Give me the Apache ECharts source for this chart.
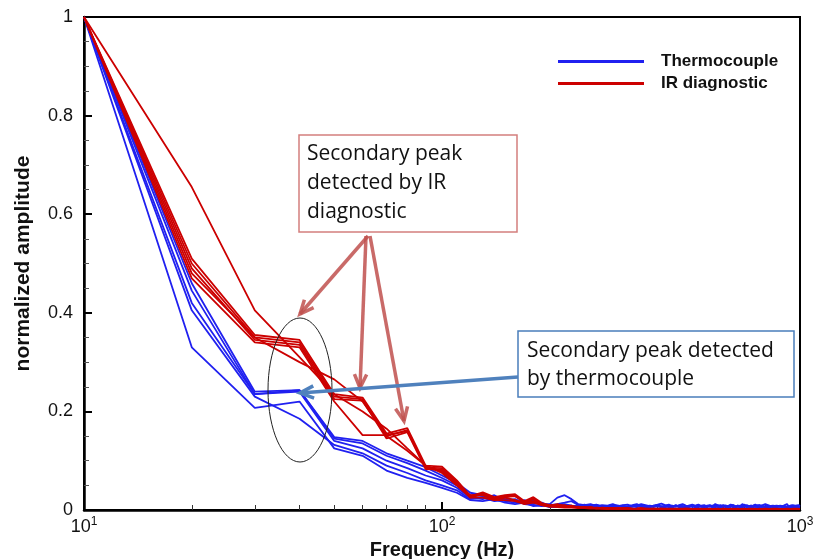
<!DOCTYPE html>
<html>
<head>
<meta charset="UTF-8">
<title>normalized amplitude</title>
<script src="https://cdn.jsdelivr.net/npm/echarts@6/dist/echarts.min.js"></script>
</head>
<body style="margin:0">
<div id="main" style="width:813px;height:559px;"></div>
<script type="text/javascript">
// frequency grid (Hz)
var freq = [10,20,30,40,50,60,70,80,90,100,
  110,120,130,140,150,160,170,180,190,200,
  210,220,230,240,250,260,270,280,290,300,
  310,320,330,340,350,360,370,380,390,400,
  410,420,430,440,450,460,470,480,490,500,
  510,520,530,540,550,560,570,580,590,600,
  610,620,630,640,650,660,670,680,690,700,
  710,720,730,740,750,760,770,780,790,800,
  810,820,830,840,850,860,870,880,890,900,
  910,920,930,940,950,960,970,980,990,1000];

// thermocouple curves
var tc1 = [1,.46,.24,.243,.148,.14,.115,.10,.087,.07,
  .055,.035,.03,.025,.022,.02,.018,.015,.012,.012,
  .025,.030,.022,.012,.010,.012,.008,.010,.009,.012,
  .008,.010,.011,.007,.009,.012,.010,.008,.009,.011,
  .013,.010,.008,.009,.007,.010,.012,.009,.008,.010,
  .009,.011,.008,.007,.009,.010,.008,.012,.009,.007,
  .010,.009,.008,.011,.010,.007,.009,.008,.012,.009,
  .010,.008,.007,.009,.011,.008,.010,.009,.007,.012,
  .008,.009,.010,.008,.007,.009,.011,.008,.010,.009,
  .008,.012,.007,.009,.010,.008,.009,.007,.010,.008];
var tc2 = [1,.445,.235,.243,.145,.135,.11,.095,.08,.065,
  .05,.03,.028,.02,.025,.018,.015,.02,.01,.01,
  .012,.015,.018,.010,.008,.009,.011,.007,.008,.010,
  .009,.007,.008,.010,.012,.008,.007,.009,.008,.010,
  .007,.009,.011,.008,.007,.009,.008,.006,.009,.011,
  .008,.007,.009,.010,.007,.008,.006,.009,.010,.008,
  .007,.009,.008,.006,.010,.008,.007,.009,.008,.011,
  .007,.008,.009,.006,.008,.010,.007,.009,.008,.007,
  .010,.008,.006,.009,.007,.008,.010,.007,.009,.006,
  .008,.007,.010,.008,.006,.009,.008,.007,.009,.007];
var tc3 = [1,.42,.235,.24,.14,.125,.10,.085,.07,.06,
  .045,.025,.022,.03,.018,.015,.02,.012,.015,.008,
  .010,.012,.009,.008,.011,.007,.009,.006,.008,.010,
  .007,.009,.006,.008,.007,.010,.008,.006,.009,.007,
  .008,.006,.009,.007,.010,.006,.008,.007,.009,.006,
  .008,.010,.007,.006,.008,.007,.009,.006,.008,.010,
  .006,.008,.007,.009,.006,.008,.007,.006,.009,.008,
  .006,.007,.009,.006,.008,.007,.010,.006,.007,.008,
  .006,.009,.007,.006,.008,.007,.006,.009,.007,.008,
  .006,.007,.009,.006,.008,.007,.006,.008,.007,.006];
var tc4 = [1,.405,.23,.185,.132,.115,.09,.075,.06,.05,
  .04,.022,.025,.018,.02,.022,.012,.01,.008,.01,
  .008,.010,.007,.009,.006,.008,.010,.007,.006,.008,
  .009,.006,.007,.008,.006,.009,.007,.006,.008,.010,
  .006,.007,.008,.006,.009,.007,.006,.008,.007,.009,
  .006,.008,.007,.006,.008,.009,.006,.007,.008,.006,
  .009,.007,.006,.008,.007,.006,.009,.008,.006,.007,
  .008,.006,.007,.009,.006,.008,.006,.007,.009,.006,
  .007,.008,.006,.007,.009,.006,.008,.007,.006,.008,
  .007,.006,.008,.009,.006,.007,.008,.006,.007,.006];
var tc5 = [1,.33,.207,.22,.125,.11,.08,.065,.055,.045,
  .035,.02,.018,.022,.015,.012,.015,.008,.01,.006,
  .006,.008,.009,.006,.007,.005,.008,.006,.007,.005,
  .008,.006,.005,.007,.009,.006,.005,.007,.006,.008,
  .005,.007,.006,.005,.008,.006,.007,.005,.006,.008,
  .005,.006,.007,.005,.006,.008,.005,.007,.006,.005,
  .007,.006,.005,.008,.006,.005,.007,.006,.005,.007,
  .006,.008,.005,.006,.007,.005,.006,.007,.005,.006,
  .008,.005,.006,.007,.005,.006,.005,.007,.006,.005,
  .007,.006,.005,.006,.007,.005,.006,.005,.007,.006];

// IR diagnostic curves
var ir1 = [1,.51,.355,.345,.235,.228,.155,.166,.09,.088,
  .06,.028,.036,.026,.03,.032,.018,.026,.014,.01,
  .010,.008,.009,.005,.006,.004,.005,.004,.003,.004,
  .003,.004,.003,.002,.003,.004,.003,.002,.003,.002,
  .003,.002,.003,.002,.002,.003,.002,.002,.003,.002,
  .002,.003,.002,.002,.002,.003,.002,.002,.002,.002,
  .003,.002,.002,.002,.002,.003,.002,.002,.002,.002,
  .002,.002,.003,.002,.002,.002,.002,.002,.003,.002,
  .002,.002,.002,.002,.002,.003,.002,.002,.002,.002,
  .002,.002,.002,.002,.003,.002,.002,.002,.002,.002];
var ir2 = [1,.50,.35,.34,.23,.225,.15,.162,.086,.085,
  .058,.026,.034,.024,.028,.03,.016,.024,.012,.009,
  .012,.007,.008,.006,.005,.005,.004,.003,.004,.003,
  .004,.003,.003,.002,.003,.003,.002,.003,.002,.002,
  .003,.002,.002,.003,.002,.002,.002,.003,.002,.002,
  .002,.002,.003,.002,.002,.002,.002,.002,.003,.002,
  .002,.002,.002,.003,.002,.002,.002,.002,.002,.003,
  .002,.002,.002,.002,.002,.002,.003,.002,.002,.002,
  .002,.002,.003,.002,.002,.002,.002,.002,.002,.002,
  .003,.002,.002,.002,.002,.002,.002,.003,.002,.002];
var ir3 = [1,.49,.345,.335,.225,.222,.145,.158,.083,.082,
  .055,.025,.032,.022,.026,.028,.015,.022,.011,.008,
  .009,.010,.006,.007,.004,.006,.003,.005,.004,.003,
  .003,.003,.004,.002,.002,.003,.002,.002,.003,.002,
  .002,.002,.002,.002,.003,.002,.002,.002,.002,.002,
  .003,.002,.002,.002,.002,.002,.002,.003,.002,.002,
  .002,.002,.002,.002,.003,.002,.002,.002,.002,.002,
  .002,.003,.002,.002,.002,.002,.002,.002,.002,.003,
  .002,.002,.002,.002,.002,.002,.003,.002,.002,.002,
  .002,.002,.002,.002,.002,.003,.002,.002,.002,.002];
var ir4 = [1,.48,.35,.30,.265,.22,.15,.12,.09,.078,
  .05,.03,.03,.02,.025,.02,.014,.018,.01,.007,
  .008,.009,.007,.005,.006,.004,.004,.003,.003,.004,
  .002,.003,.003,.002,.002,.003,.002,.002,.002,.003,
  .002,.002,.002,.002,.002,.002,.003,.002,.002,.002,
  .002,.002,.002,.002,.003,.002,.002,.002,.002,.002,
  .002,.003,.002,.002,.002,.002,.002,.002,.003,.002,
  .002,.002,.002,.002,.003,.002,.002,.002,.002,.002,
  .002,.002,.002,.003,.002,.002,.002,.002,.002,.002,
  .002,.003,.002,.002,.002,.002,.002,.002,.002,.002];
var ir5 = [1,.47,.34,.33,.22,.152,.152,.16,.085,.08,
  .055,.028,.033,.023,.027,.029,.016,.023,.012,.008,
  .011,.008,.007,.006,.005,.006,.004,.004,.003,.003,
  .004,.002,.003,.003,.002,.002,.003,.002,.002,.002,
  .002,.003,.002,.002,.002,.002,.002,.003,.002,.002,
  .002,.002,.002,.003,.002,.002,.002,.002,.002,.002,
  .003,.002,.002,.002,.002,.002,.003,.002,.002,.002,
  .002,.002,.002,.003,.002,.002,.002,.002,.002,.002,
  .003,.002,.002,.002,.002,.002,.002,.002,.003,.002,
  .002,.002,.002,.002,.002,.002,.003,.002,.002,.002];
var ir6 = [1,.655,.405,.31,.235,.20,.165,.125,.09,.075,
  .05,.025,.025,.02,.02,.018,.012,.015,.01,.007,
  .006,.005,.005,.004,.004,.003,.003,.003,.002,.003,
  .002,.002,.003,.002,.002,.002,.002,.002,.002,.002,
  .002,.002,.002,.002,.002,.002,.002,.002,.002,.002,
  .002,.002,.002,.002,.002,.002,.002,.002,.002,.002,
  .002,.002,.002,.002,.002,.002,.002,.002,.002,.002,
  .002,.002,.002,.002,.002,.002,.002,.002,.002,.002,
  .002,.002,.002,.002,.002,.002,.002,.002,.002,.002,
  .002,.002,.002,.002,.002,.002,.002,.002,.002,.002];

var majorTicks = [10, 100, 1000];
var minorTicks = [20,30,40,50,60,70,80,90,200,300,400,500,600,700,800,900];

var BLUE = '#2020f0', RED = '#cc0000';
var AXFONT = 'Liberation Sans, Arial, sans-serif';
var NOTEFONT = 'Open Sans, Noto Sans, sans-serif';

function line(name, vals, color) {
  return {
    name: name, type: 'line', symbol: 'none', silent: true,
    lineStyle: {color: color, width: 1.8}, itemStyle: {color: color},
    data: freq.map(function (f, i) { return [f, vals[i]]; })
  };
}

function arrow(x1, y1, x2, y2, color, w) {
  var a = Math.atan2(y2 - y1, x2 - x1), L = 15, s = 0.42;
  return {
    type: 'group', silent: true, z: 100,
    children: [
      {type: 'line', z: 100, shape: {x1: x1, y1: y1, x2: x2, y2: y2}, style: {stroke: color, lineWidth: w}},
      {type: 'polyline', z: 100, shape: {points: [
        [x2 - L * Math.cos(a - s), y2 - L * Math.sin(a - s)], [x2, y2],
        [x2 - L * Math.cos(a + s), y2 - L * Math.sin(a + s)]]},
        style: {stroke: color, lineWidth: w, fill: null, lineJoin: 'miter'}}
    ]
  };
}

var myChart = echarts.init(document.getElementById('main'));
var redArrow = 'rgba(192,80,77,0.85)', blueArrow = '#4f81bd';

var option = {
  animation: false,
  backgroundColor: '#fff',
  grid: {left: 84, right: 13, top: 17, bottom: 49, show: true, borderColor: '#000', borderWidth: 2,
    outerBoundsMode: 'none', containLabel: false},
  legend: {
    orient: 'vertical', left: 553, top: 48, itemWidth: 86, itemHeight: 3, itemGap: 5,
    icon: 'rect',
    data: ['Thermocouple', 'IR diagnostic'],
    textStyle: {fontFamily: AXFONT, fontWeight: 'bold', fontSize: 17, color: '#111', padding: [0, 0, 0, 12]}
  },
  xAxis: [{
    type: 'log', logBase: 10, min: 10, max: 1000,
    name: 'Frequency (Hz)', nameLocation: 'middle', nameGap: 25,
    nameTextStyle: {fontFamily: AXFONT, fontWeight: 'bold', fontSize: 20, color: '#111'},
    axisLine: {lineStyle: {color: '#000', width: 2.5}},
    axisTick: {inside: true, length: 8, lineStyle: {color: '#000', width: 2}, customValues: majorTicks},
    axisLabel: {
      customValues: majorTicks, margin: 6,
      formatter: function (v) { return '{b|10}{s|' + Math.round(Math.log10(v)) + '}'; },
      rich: {
        b: {fontFamily: AXFONT, fontSize: 18, color: '#111', verticalAlign: 'bottom'},
        s: {fontFamily: AXFONT, fontSize: 12, color: '#111', verticalAlign: 'top', padding: [0, 0, 8, 0]}
      }
    },
    splitLine: {show: false}
  }, {
    type: 'log', logBase: 10, min: 10, max: 1000, position: 'bottom',
    axisLine: {show: false},
    axisTick: {inside: true, length: 5, lineStyle: {color: '#333', width: 1}, customValues: minorTicks},
    axisLabel: {show: false},
    splitLine: {show: false}
  }],
  yAxis: {
    type: 'value', min: 0, max: 1, interval: 0.2,
    name: 'normalized amplitude', nameLocation: 'middle', nameGap: 50,
    nameTextStyle: {fontFamily: AXFONT, fontWeight: 'bold', fontSize: 21, color: '#111'},
    axisLine: {show: true, lineStyle: {color: '#000', width: 2.5}},
    axisTick: {inside: true, length: 8, lineStyle: {color: '#000', width: 2}},
    minorTick: {show: true, splitNumber: 4, length: 5, lineStyle: {color: '#555', width: 1}},
    axisLabel: {fontFamily: AXFONT, fontSize: 18, color: '#111', margin: 11},
    splitLine: {show: false}
  },
  series: [
    line('Thermocouple', tc1, BLUE), line('Thermocouple', tc2, BLUE),
    line('Thermocouple', tc3, BLUE), line('Thermocouple', tc4, BLUE),
    line('Thermocouple', tc5, BLUE),
    line('IR diagnostic', ir1, RED), line('IR diagnostic', ir2, RED),
    line('IR diagnostic', ir3, RED), line('IR diagnostic', ir4, RED),
    line('IR diagnostic', ir5, RED), line('IR diagnostic', ir6, RED)
  ],
  graphic: [
    {type: 'ellipse', z: 100, silent: true, shape: {cx: 300, cy: 390, rx: 32, ry: 72},
      style: {stroke: '#222', lineWidth: 1, fill: null}},
    {type: 'rect', z: 100, silent: true, shape: {x: 299, y: 135, width: 218, height: 97},
      style: {stroke: '#d47f7d', lineWidth: 1.5, fill: '#fff'}},
    {type: 'text', z: 101, silent: true, x: 307, y: 140,
      style: {text: 'Secondary peak\ndetected by IR\ndiagnostic', fontFamily: NOTEFONT, fontSize: 21,
        lineHeight: 29, fill: '#111'}},
    {type: 'rect', z: 100, silent: true, shape: {x: 518, y: 331, width: 276, height: 66},
      style: {stroke: '#4a7ebb', lineWidth: 1.5, fill: '#fff'}},
    {type: 'text', z: 101, silent: true, x: 527, y: 337,
      style: {text: 'Secondary peak detected\nby thermocouple', fontFamily: NOTEFONT, fontSize: 21,
        lineHeight: 28, fill: '#111'}},
    arrow(368, 236, 300, 314, redArrow, 3.5),
    arrow(366, 236, 360, 388, redArrow, 3.5),
    arrow(370, 236, 404, 421, redArrow, 3.5),
    arrow(518, 377, 300, 393, blueArrow, 3.5)
  ]
};
myChart.setOption(option);
</script>
</body>
</html>
